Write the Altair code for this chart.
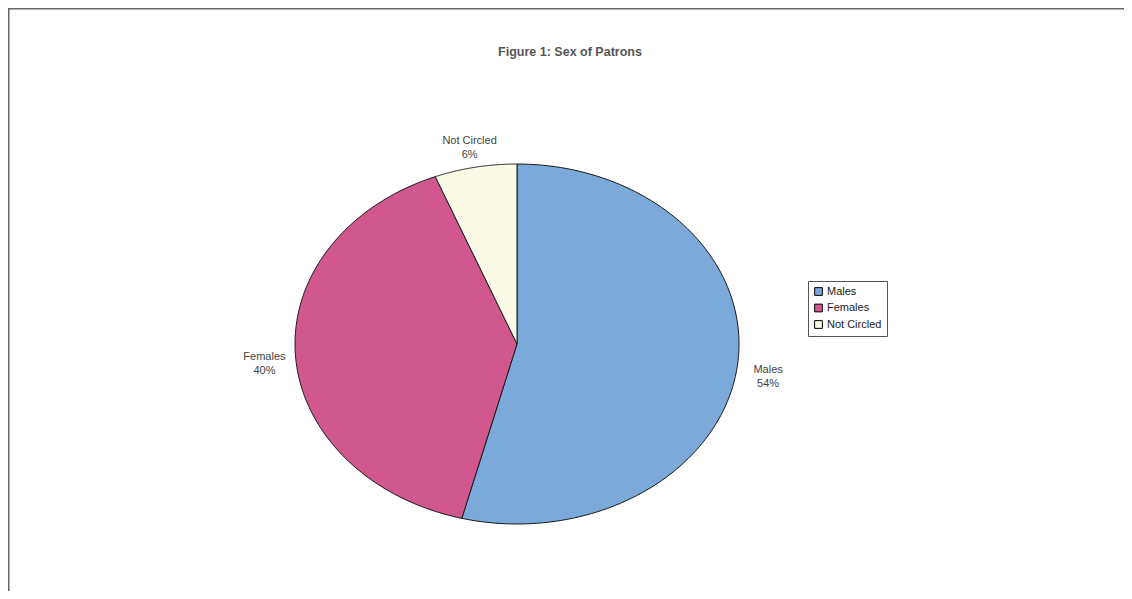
import altair as alt
import pandas as pd

# ---- data ----
categories = ["Males", "Females", "Not Circled"]
values = [54, 40, 6]
slice_order = [0, 1, 2]
colors = ["#7AA9DA", "#D1588F", "#FAFAE6"]
title_text = "Figure 1: Sex of Patrons"

df = pd.DataFrame({"category": categories, "value": values, "order": slice_order})

W, H = 1116, 583
N = 120  # arc resolution
FONT = "Liberation Sans"

xscale = alt.Scale(domain=[-2.2928, 2.7342], nice=False, zero=False)
yscale = alt.Scale(domain=[-1.3722, 1.8667], nice=False, zero=False)

color = alt.Color(
    "category:N",
    sort=categories,
    scale=alt.Scale(domain=categories, range=colors),
    legend=alt.Legend(
        title=None,
        orient="none",
        legendX=800,
        legendY=273,
        symbolType="square",
        symbolSize=60,
        symbolStrokeColor="#000000",
        symbolStrokeWidth=1,
        symbolOpacity=1,
        labelFont=FONT,
        labelFontSize=11,
        labelColor="#222222",
        labelOffset=3,
        strokeColor="#555555",
        fillColor="white",
        padding=5,
        rowPadding=3.5,
    ),
)

base = (
    alt.Chart(df)
    .transform_joinaggregate(total="sum(value)")
    .transform_window(cum="sum(value)", sort=[alt.SortField("order")], frame=[None, 0])
    .transform_calculate(
        a0="2*PI*(datum.cum - datum.value)/datum.total",
        a1="2*PI*datum.cum/datum.total",
    )
)

wedges = (
    base.transform_calculate(idx=f"sequence(0, {N + 3})")
    .transform_flatten(["idx"])
    .transform_calculate(
        t=f"clamp((datum.idx - 1)/{N}, 0, 1)",
        r=f"(datum.idx == 0 || datum.idx == {N + 2}) ? 0 : 1",
    )
    .transform_calculate(ang="datum.a0 + (datum.a1 - datum.a0)*datum.t")
    .transform_calculate(px="datum.r*sin(datum.ang)", py="datum.r*cos(datum.ang)")
    .mark_line(filled=True, stroke="#1a1a1a", strokeWidth=1, strokeJoin="round", opacity=1)
    .encode(
        x=alt.X("px:Q", scale=xscale, axis=None),
        y=alt.Y("py:Q", scale=yscale, axis=None),
        order=alt.Order("idx:Q"),
        color=color,
    )
)

labels = (
    base.transform_calculate(mid="(datum.a0 + datum.a1)/2")
    .transform_calculate(
        lx="1.14*sin(datum.mid)",
        ly="1.15*cos(datum.mid)",
        lab="datum.category + '|' + format(datum.value/datum.total, '.0%')",
    )
    .mark_text(
        lineBreak="|",
        font=FONT,
        fontSize=11,
        color="#444444",
        lineHeight=14,
        align="center",
        baseline="middle",
    )
    .encode(
        x=alt.X("lx:Q", scale=xscale, axis=None),
        y=alt.Y("ly:Q", scale=yscale, axis=None),
        text="lab:N",
    )
)

title = (
    alt.Chart(pd.DataFrame({"t": [title_text]}))
    .mark_text(font=FONT, fontSize=12.5, fontWeight="bold", color="#555555",
               align="center", baseline="middle")
    .encode(text="t:N", x=alt.value(562), y=alt.value(44))
)

frame_df = pd.DataFrame({"k": [0]})
frame_top = (
    alt.Chart(frame_df)
    .mark_rule(color="#666666", strokeWidth=3)
    .encode(x=alt.value(0), x2=alt.value(W), y=alt.value(0))
)
frame_left = (
    alt.Chart(frame_df)
    .mark_rule(color="#666666", strokeWidth=3)
    .encode(x=alt.value(0), y=alt.value(0), y2=alt.value(H))
)

chart = (
    alt.layer(frame_top, frame_left, wedges, labels, title)
    .properties(
        width=W,
        height=H,
        autosize=alt.AutoSizeParams(type="none"),
        padding=0,
        background="white",
    )
    .configure_view(strokeOpacity=0)
)

chart.save("out.html", embed_options={"renderer": "svg", "actions": False})
